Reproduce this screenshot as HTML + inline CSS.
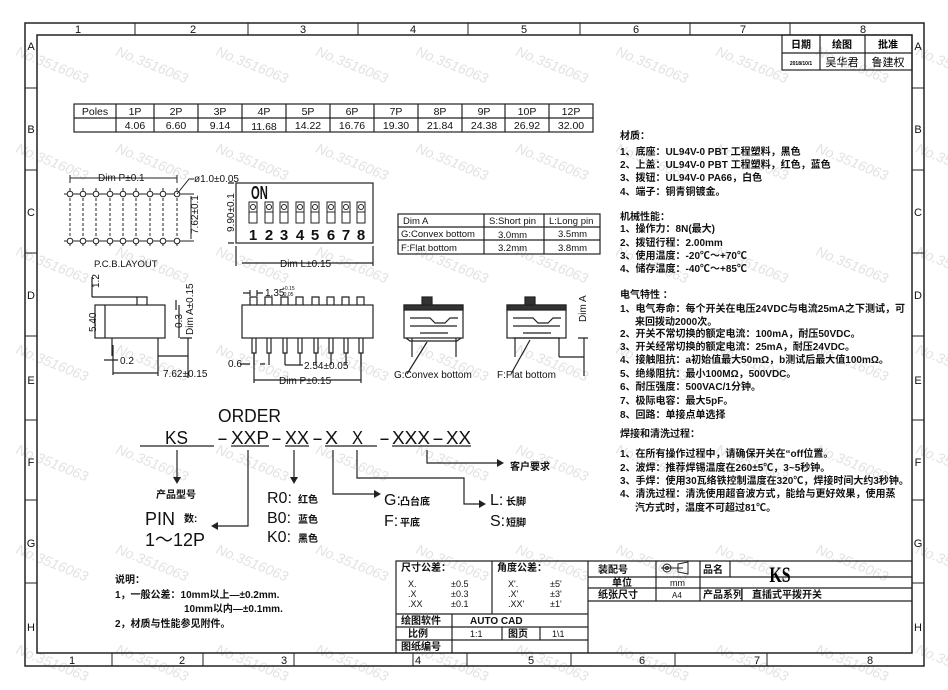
<!DOCTYPE html>
<html><head><meta charset="utf-8"><style>
html,body{margin:0;padding:0;background:#fff;}
svg{display:block;font-family:"Liberation Sans","Noto Sans CJK SC",sans-serif;}
.c{font-family:"Liberation Sans","Noto Sans CJK SC",sans-serif;font-weight:bold;font-size:10px;}
.wm{font-size:14px;fill:#e2e2e2;font-style:italic;}
</style></head><body>
<svg width="948" height="690" viewBox="0 0 948 690" xmlns="http://www.w3.org/2000/svg">
<rect width="948" height="690" fill="#fff"/>
<g class="wm">
<text transform="translate(15,55) rotate(22)">No.3516063</text><text transform="translate(115,55) rotate(22)">No.3516063</text><text transform="translate(215,55) rotate(22)">No.3516063</text><text transform="translate(315,55) rotate(22)">No.3516063</text><text transform="translate(415,55) rotate(22)">No.3516063</text><text transform="translate(515,55) rotate(22)">No.3516063</text><text transform="translate(615,55) rotate(22)">No.3516063</text><text transform="translate(715,55) rotate(22)">No.3516063</text><text transform="translate(815,55) rotate(22)">No.3516063</text><text transform="translate(915,55) rotate(22)">No.3516063</text>
<text transform="translate(15,152) rotate(22)">No.3516063</text><text transform="translate(115,152) rotate(22)">No.3516063</text><text transform="translate(215,152) rotate(22)">No.3516063</text><text transform="translate(315,152) rotate(22)">No.3516063</text><text transform="translate(415,152) rotate(22)">No.3516063</text><text transform="translate(515,152) rotate(22)">No.3516063</text><text transform="translate(615,152) rotate(22)">No.3516063</text><text transform="translate(715,152) rotate(22)">No.3516063</text><text transform="translate(815,152) rotate(22)">No.3516063</text><text transform="translate(915,152) rotate(22)">No.3516063</text>
<text transform="translate(15,255) rotate(22)">No.3516063</text><text transform="translate(115,255) rotate(22)">No.3516063</text><text transform="translate(215,255) rotate(22)">No.3516063</text><text transform="translate(315,255) rotate(22)">No.3516063</text><text transform="translate(415,255) rotate(22)">No.3516063</text><text transform="translate(515,255) rotate(22)">No.3516063</text><text transform="translate(615,255) rotate(22)">No.3516063</text><text transform="translate(715,255) rotate(22)">No.3516063</text><text transform="translate(815,255) rotate(22)">No.3516063</text><text transform="translate(915,255) rotate(22)">No.3516063</text>
<text transform="translate(15,353) rotate(22)">No.3516063</text><text transform="translate(115,353) rotate(22)">No.3516063</text><text transform="translate(215,353) rotate(22)">No.3516063</text><text transform="translate(315,353) rotate(22)">No.3516063</text><text transform="translate(415,353) rotate(22)">No.3516063</text><text transform="translate(515,353) rotate(22)">No.3516063</text><text transform="translate(615,353) rotate(22)">No.3516063</text><text transform="translate(715,353) rotate(22)">No.3516063</text><text transform="translate(815,353) rotate(22)">No.3516063</text><text transform="translate(915,353) rotate(22)">No.3516063</text>
<text transform="translate(15,453) rotate(22)">No.3516063</text><text transform="translate(115,453) rotate(22)">No.3516063</text><text transform="translate(215,453) rotate(22)">No.3516063</text><text transform="translate(315,453) rotate(22)">No.3516063</text><text transform="translate(415,453) rotate(22)">No.3516063</text><text transform="translate(515,453) rotate(22)">No.3516063</text><text transform="translate(615,453) rotate(22)">No.3516063</text><text transform="translate(715,453) rotate(22)">No.3516063</text><text transform="translate(815,453) rotate(22)">No.3516063</text><text transform="translate(915,453) rotate(22)">No.3516063</text>
<text transform="translate(15,553) rotate(22)">No.3516063</text><text transform="translate(115,553) rotate(22)">No.3516063</text><text transform="translate(215,553) rotate(22)">No.3516063</text><text transform="translate(315,553) rotate(22)">No.3516063</text><text transform="translate(415,553) rotate(22)">No.3516063</text><text transform="translate(515,553) rotate(22)">No.3516063</text><text transform="translate(615,553) rotate(22)">No.3516063</text><text transform="translate(715,553) rotate(22)">No.3516063</text><text transform="translate(815,553) rotate(22)">No.3516063</text><text transform="translate(915,553) rotate(22)">No.3516063</text>
<text transform="translate(15,653) rotate(22)">No.3516063</text><text transform="translate(115,653) rotate(22)">No.3516063</text><text transform="translate(215,653) rotate(22)">No.3516063</text><text transform="translate(315,653) rotate(22)">No.3516063</text><text transform="translate(415,653) rotate(22)">No.3516063</text><text transform="translate(515,653) rotate(22)">No.3516063</text><text transform="translate(615,653) rotate(22)">No.3516063</text><text transform="translate(715,653) rotate(22)">No.3516063</text><text transform="translate(815,653) rotate(22)">No.3516063</text><text transform="translate(915,653) rotate(22)">No.3516063</text>
</g>
<g fill="none" stroke="#222">
<rect x="25" y="23" width="899" height="643" stroke-width="1.5"/>
<rect x="37" y="35" width="875" height="618" stroke-width="1.5"/>
</g>
<g stroke="#222" stroke-width="1">
<path d="M135 23v12M248 23v12M358 23v12M468 23v12M580 23v12M690 23v12M790 23v12"/>
<path d="M112 653v13M203 653v13M294 653v13M413 653v13M467 653v13M571 653v13M675 653v13M767 653v13"/>
<path d="M25 88h12M25 170h12M25 253h12M25 336h12M25 420h12M25 500h12M25 583h12"/>
<path d="M912 88h12M912 170h12M912 253h12M912 336h12M912 420h12M912 500h12M912 583h12"/>
</g>
<g font-size="11" fill="#111" text-anchor="middle">
<text x="78" y="33">1</text><text x="193" y="33">2</text><text x="303" y="33">3</text><text x="413" y="33">4</text><text x="524" y="33">5</text><text x="636" y="33">6</text><text x="743" y="33">7</text><text x="863" y="33">8</text>
<text x="72" y="664">1</text><text x="182" y="664">2</text><text x="284" y="664">3</text><text x="418" y="664">4</text><text x="531" y="664">5</text><text x="642" y="664">6</text><text x="757" y="664">7</text><text x="870" y="664">8</text>
<text x="31" y="50">A</text><text x="31" y="133">B</text><text x="31" y="216">C</text><text x="31" y="299">D</text><text x="31" y="384">E</text><text x="31" y="466">F</text><text x="31" y="547">G</text><text x="31" y="631">H</text>
<text x="918" y="50">A</text><text x="918" y="133">B</text><text x="918" y="216">C</text><text x="918" y="299">D</text><text x="918" y="384">E</text><text x="918" y="466">F</text><text x="918" y="547">G</text><text x="918" y="631">H</text>
</g>
<g fill="none" stroke="#222" stroke-width="1.2"><rect x="782" y="35" width="130" height="35"/><path d="M782 53h130M820 35v35M865 35v35"/></g>
<g class="c" text-anchor="middle"><text x="801" y="48">日期</text><text x="842" y="48">绘图</text><text x="888" y="48">批准</text>
<text x="801" y="65" font-size="5">2018/10/1</text><text x="842" y="66" font-size="11" font-weight="normal">吴华君</text><text x="888" y="66" font-size="11" font-weight="normal">鲁建权</text></g>
<g fill="none" stroke="#222" stroke-width="1.2"><rect x="74" y="104" width="519" height="28"/><path d="M74 118h519M116 104v28M154 104v28M198 104v28M242 104v28M286 104v28M330 104v28M374 104v28M418 104v28M462 104v28M505 104v28M549 104v28"/></g>
<g font-size="10.5" fill="#111" text-anchor="middle">
<text x="95" y="115">Poles</text><text x="135" y="115">1P</text><text x="176" y="115">2P</text><text x="220" y="115">3P</text><text x="264" y="115">4P</text><text x="308" y="115">5P</text><text x="352" y="115">6P</text><text x="396" y="115">7P</text><text x="440" y="115">8P</text><text x="484" y="115">9P</text><text x="527" y="115">10P</text><text x="571" y="115">12P</text>
<text x="135" y="129">4.06</text><text x="176" y="129">6.60</text><text x="220" y="129">9.14</text><text x="264" y="130">11.68</text><text x="308" y="129">14.22</text><text x="352" y="129">16.76</text><text x="396" y="129">19.30</text><text x="440" y="129">21.84</text><text x="484" y="129">24.38</text><text x="527" y="129">26.92</text><text x="571" y="129">32.00</text>
</g>
<g stroke="#222" stroke-width="1" fill="none">
<path d="M70 175v8M177 175v8M70 178h107"/>
<path d="M64 194h118M64 241h118"/>
<path d="M70 188v59M83 188v59M96 188v59M110 188v59M123 188v59M136 188v59M150 188v59M163 188v59M177 188v59" stroke-dasharray="3 2"/>
<g fill="#fff"><circle cx="70" cy="194" r="2.8"/><circle cx="83" cy="194" r="2.8"/><circle cx="96" cy="194" r="2.8"/><circle cx="110" cy="194" r="2.8"/><circle cx="123" cy="194" r="2.8"/><circle cx="136" cy="194" r="2.8"/><circle cx="150" cy="194" r="2.8"/><circle cx="163" cy="194" r="2.8"/><circle cx="177" cy="194" r="2.8"/>
<circle cx="70" cy="241" r="2.8"/><circle cx="83" cy="241" r="2.8"/><circle cx="96" cy="241" r="2.8"/><circle cx="110" cy="241" r="2.8"/><circle cx="123" cy="241" r="2.8"/><circle cx="136" cy="241" r="2.8"/><circle cx="150" cy="241" r="2.8"/><circle cx="163" cy="241" r="2.8"/><circle cx="177" cy="241" r="2.8"/></g>
<path d="M177 194l12-15h5M182 194h12M182 241h12M191 196v43"/>
</g>
<g font-size="10" fill="#111">
<text x="98" y="181">Dim  P±0.1</text>
<text x="194" y="182">ø1.0±0.05</text>
<text transform="translate(198,234) rotate(-90)">7.62±0.1</text>
<text x="94" y="267" font-size="9.5">P.C.B.LAYOUT</text>
</g>
<g stroke="#222" stroke-width="1.2" fill="none">
<rect x="236" y="183" width="137" height="60"/>
<path d="M236 246v20M373 246v20M242 263h131M234 183h-6M234 243h-6"/>
<g stroke-width="1"><rect x="249" y="202" width="8" height="21"/><rect x="265" y="202" width="8" height="21"/><rect x="280" y="202" width="8" height="21"/><rect x="296" y="202" width="8" height="21"/><rect x="311" y="202" width="8" height="21"/><rect x="327" y="202" width="8" height="21"/><rect x="342" y="202" width="8" height="21"/><rect x="357" y="202" width="8" height="21"/>
<path d="M249 212h8M265 212h8M280 212h8M296 212h8M311 212h8M327 212h8M342 212h8M357 212h8"/>
<circle cx="253" cy="207" r="2.5"/><circle cx="269" cy="207" r="2.5"/><circle cx="284" cy="207" r="2.5"/><circle cx="300" cy="207" r="2.5"/><circle cx="315" cy="207" r="2.5"/><circle cx="331" cy="207" r="2.5"/><circle cx="346" cy="207" r="2.5"/><circle cx="361" cy="207" r="2.5"/></g>
</g>
<g fill="#111">
<text x="251" y="199" font-size="14" font-weight="bold" transform="translate(251,199) scale(0.8,1.3) translate(-251,-199)">ON</text>
<g font-size="15" font-weight="bold" text-anchor="middle"><text x="253" y="240">1</text><text x="269" y="240">2</text><text x="284" y="240">3</text><text x="300" y="240">4</text><text x="315" y="240">5</text><text x="331" y="240">6</text><text x="346" y="240">7</text><text x="361" y="240">8</text></g>
<text font-size="10" transform="translate(234,232) rotate(-90)">9.90±0.1</text>
<text x="280" y="267" font-size="10">Dim  L±0.15</text>
</g>
<g fill="none" stroke="#222" stroke-width="1.2"><rect x="398" y="214" width="202" height="40"/><path d="M398 227h202M398 240h202M484 214v40M544 214v40"/></g>
<g font-size="9.5" fill="#111"><text x="403" y="224">Dim  A</text><text x="489" y="224">S:Short  pin</text><text x="549" y="224">L:Long  pin</text>
<text x="401" y="237">G:Convex  bottom</text><text x="498" y="238">3.0mm</text><text x="558" y="237">3.5mm</text>
<text x="401" y="251">F:Flat  bottom</text><text x="498" y="251">3.2mm</text><text x="558" y="251">3.8mm</text></g>
<g stroke="#222" stroke-width="1.2" fill="none">
<rect x="95" y="305" width="70" height="33"/><path d="M105 305v33"/>
<path d="M137 305v-8h10v8"/>
<path d="M112 338v18M158 338v18M158 356h30M188 338v40M180 338h12M92 297v-20M92 297h45"/>
<path d="M113 345v30M158 356v20M113 373h45M104 360h9M113 360h5"/>
<path d="M179 305v33M176 300v10"/>
</g>
<g font-size="10" fill="#111">
<text transform="translate(99,288) rotate(-90)">1.2</text>
<text transform="translate(96,332) rotate(-90)">5.40</text>
<text transform="translate(182,328) rotate(-90)">0.3</text>
<text transform="translate(193,335) rotate(-90)">Dim  A±0.15</text>
<text x="120" y="364">0.2</text><text x="163" y="377">7.62±0.15</text>
</g>
<g stroke="#222" stroke-width="1.2" fill="none">
<rect x="242" y="305" width="131" height="33"/>
<path d="M250 305v-8h7v8M265 305v-8h7v8M281 305v-8h7v8M296 305v-8h7v8M312 305v-8h7v8M327 305v-8h7v8M342 305v-8h7v8M357 305v-8h7v8"/>
<path d="M252 338v15h4v-15M267 338v15h4v-15M283 338v15h4v-15M298 338v15h4v-15M314 338v15h4v-15M329 338v15h4v-15M344 338v15h4v-15M359 338v15h4v-15"/>
<path d="M254 353v12M269 353v12M285 353v12M300 353v12M316 353v12M331 353v12M346 353v12M361 353v12"/>
<path d="M254 353v30M361 353v30M254 380h107M240 364h10M260 364h5M285 365h18M250 296v-6M257 296v-6M243 293h7M257 293h6"/>
</g>
<g font-size="10" fill="#111"><text x="265" y="296">1.35</text><text x="282" y="290" font-size="5">+0.15</text><text x="282" y="296" font-size="5">-0.05</text>
<text x="228" y="367">0.6</text><text x="304" y="369">2.54±0.05</text><text x="279" y="384">Dim  P±0.15</text></g>
<g stroke="#222" stroke-width="1.2" fill="none">
<rect x="404" y="305" width="59" height="33"/>
<rect x="422" y="297" width="10" height="9" fill="#333"/>
<path d="M404 305h59v5h-59z" fill="#333"/>
<path d="M410 318h20l5 5h10l5-5h8M410 326h47M420 333h28M406 338l4 3h47l4-3"/>
<path d="M412 338v19M456 338v19M427 342l-20 32"/>
<rect x="507" y="305" width="59" height="33"/>
<rect x="525" y="297" width="10" height="9" fill="#333"/>
<path d="M507 305h59v5h-59z" fill="#333"/>
<path d="M513 318h20l5 5h10l5-5h8M513 326h47M523 333h28M513 338h47"/>
<path d="M515 338v19M559 338v19M530 340l-19 34"/>
<path d="M559 357h25M584 338v38M578 338h10"/>
</g>
<g font-size="10" fill="#111"><text x="394" y="378">G:Convex  bottom</text><text x="497" y="378">F:Flat  bottom</text>
<text transform="translate(586,322) rotate(-90)">Dim  A</text></g>
<g class="c" fill="#111">
<text x="620" y="139">材质：</text>
<text x="620" y="155">1、底座：UL94V-0 PBT 工程塑料，黑色</text>
<text x="620" y="168">2、上盖：UL94V-0 PBT 工程塑料，红色，蓝色</text>
<text x="620" y="181">3、拨钮：UL94V-0 PA66，白色</text>
<text x="620" y="195">4、端子：铜青铜镀金。</text>
<text x="620" y="220">机械性能：</text>
<text x="620" y="232">1、操作力：8N(最大)</text>
<text x="620" y="246">2、拨钮行程：2.00mm</text>
<text x="620" y="259">3、使用温度：-20℃～+70℃</text>
<text x="620" y="272">4、储存温度：-40℃～+85℃</text>
<text x="620" y="298">电气特性 ：</text>
<text x="620" y="312">1、电气寿命：每个开关在电压24VDC与电流25mA之下测试，可</text>
<text x="635" y="325">来回拨动2000次。</text>
<text x="620" y="337">2、开关不常切换的额定电流：100mA，耐压50VDC。</text>
<text x="620" y="350">3、开关经常切换的额定电流：25mA，耐压24VDC。</text>
<text x="620" y="363">4、接触阻抗：a初始值最大50mΩ，b测试后最大值100mΩ。</text>
<text x="620" y="377">5、绝缘阻抗：最小100MΩ，500VDC。</text>
<text x="620" y="390">6、耐压强度：500VAC/1分钟。</text>
<text x="620" y="404">7、极际电容：最大5pF。</text>
<text x="620" y="418">8、回路：单接点单选择</text>
<text x="620" y="437">焊接和清洗过程：</text>
<text x="620" y="457">1、在所有操作过程中，请确保开关在“off位置。</text>
<text x="620" y="471">2、波焊：推荐焊锡温度在260±5℃，3~5秒钟。</text>
<text x="620" y="484">3、手焊：使用30瓦络铁控制温度在320℃，焊接时间大约3秒钟。</text>
<text x="620" y="497">4、清洗过程：清洗使用超音波方式，能给与更好效果，使用蒸</text>
<text x="635" y="511">汽方式时，温度不可超过81℃。</text>
</g>
<g fill="#111" font-size="18">
<text x="218" y="422" textLength="63" lengthAdjust="spacingAndGlyphs">ORDER</text>
<text x="165" y="444" textLength="23" lengthAdjust="spacingAndGlyphs">KS</text>
<text x="217" y="444" textLength="11" lengthAdjust="spacingAndGlyphs">-</text>
<text x="231" y="444" textLength="38" lengthAdjust="spacingAndGlyphs">XXP</text>
<text x="271" y="444" textLength="11" lengthAdjust="spacingAndGlyphs">-</text>
<text x="285" y="444" textLength="24" lengthAdjust="spacingAndGlyphs">XX</text>
<text x="312" y="444" textLength="11" lengthAdjust="spacingAndGlyphs">-</text>
<text x="325" y="444" textLength="13" lengthAdjust="spacingAndGlyphs">X</text>
<text x="352" y="444" textLength="11" lengthAdjust="spacingAndGlyphs">X</text>
<text x="379" y="444" textLength="11" lengthAdjust="spacingAndGlyphs">-</text>
<text x="392" y="444" textLength="38" lengthAdjust="spacingAndGlyphs">XXX</text>
<text x="432" y="444" textLength="12" lengthAdjust="spacingAndGlyphs">-</text>
<text x="446" y="444" textLength="25" lengthAdjust="spacingAndGlyphs">XX</text>
</g>
<g stroke="#222" stroke-width="1.2" fill="none">
<path d="M140 446h74M231 446h38M285 446h24M325 446h52M392 446h79"/>
<path d="M177 450v30M248 450v76h-34M294 450v30M333 450v44h45M357 450v28h107v26h19M427 450v13h74"/>
</g>
<g fill="#222">
<path d="M173 477h8l-4 7z"/><path d="M290 477h8l-4 7z"/><path d="M211 526l7-4v8z"/><path d="M381 494l-7-4v8z"/><path d="M486 504l-7-4v8z"/><path d="M504 463l-7-4v8z"/>
</g>
<g fill="#111">
<text x="156" y="498" class="c">产品型号</text>
<text x="145" y="525" font-size="18">PIN</text><text x="184" y="522" class="c" font-size="11">数:</text>
<text x="145" y="546" font-size="18">1～12P</text>
<text x="267" y="503" font-size="16">R0:</text><text x="298" y="503" class="c">红色</text>
<text x="267" y="523" font-size="16">B0:</text><text x="298" y="523" class="c">蓝色</text>
<text x="267" y="542" font-size="16">K0:</text><text x="298" y="542" class="c">黑色</text>
<text x="384" y="505" font-size="16">G:</text><text x="400" y="505" class="c">凸台底</text>
<text x="384" y="526" font-size="16">F:</text><text x="400" y="526" class="c">平底</text>
<text x="490" y="505" font-size="16">L:</text><text x="506" y="505" class="c">长脚</text>
<text x="490" y="526" font-size="16">S:</text><text x="506" y="526" class="c">短脚</text>
<text x="510" y="470" class="c">客户要求</text>
</g>
<g class="c" fill="#111">
<text x="115" y="583">说明：</text>
<text x="115" y="598">1，一般公差：10mm以上—±0.2mm.</text>
<text x="184" y="612">10mm以内—±0.1mm.</text>
<text x="115" y="627">2，材质与性能参见附件。</text>
</g>
<g fill="none" stroke="#222" stroke-width="1.2">
<path d="M396 653v-92h516M492 561v53M396 614h192M396 627h192M396 640h192M452 614v39M502 627v13M540 627v13M588 561v92"/>
<path d="M588 577h324M588 588h324M588 601h324M656 561v40M700 561v40M730 561v16M742 588v13"/>
</g>
<g class="c" font-size="8" fill="#111">
<text x="401" y="571">尺寸公差：</text><text x="497" y="571">角度公差：</text>
<text x="401" y="624">绘图软件</text><text x="408" y="637">比例</text><text x="401" y="650">图纸编号</text>
<text x="508" y="637">图页</text>
<text x="470" y="624">AUTO CAD</text>
<text x="598" y="573">装配号</text><text x="612" y="586">单位</text><text x="598" y="598">纸张尺寸</text>
<text x="703" y="573">品名</text><text x="703" y="598">产品系列</text><text x="752" y="598" font-size="10">直插式平拨开关</text>
</g>
<g fill="#111" font-size="9">
<text x="408" y="587">X.</text><text x="451" y="587">±0.5</text>
<text x="408" y="597">.X</text><text x="451" y="597">±0.3</text>
<text x="408" y="607">.XX</text><text x="451" y="607">±0.1</text>
<text x="508" y="587">X'.</text><text x="550" y="587">±5'</text>
<text x="508" y="597">.X'</text><text x="550" y="597">±3'</text>
<text x="508" y="607">.XX'</text><text x="550" y="607">±1'</text>
<text x="470" y="637">1:1</text><text x="552" y="637">1\1</text>
<text x="670" y="586">mm</text><text x="672" y="598" font-size="8">A4</text>
</g>
<text x="780" y="582" font-size="20" font-family="Liberation Serif,serif" font-weight="bold" text-anchor="middle" transform="translate(780,582) scale(0.8,1.1) translate(-780,-582)">KS</text>
<g stroke="#222" fill="none" stroke-width="1"><circle cx="667" cy="568" r="4"/><circle cx="667" cy="568" r="1.5"/><path d="M661 568h22M678 564l10-2v12l-10-2z"/></g>
</svg>
</body></html>
